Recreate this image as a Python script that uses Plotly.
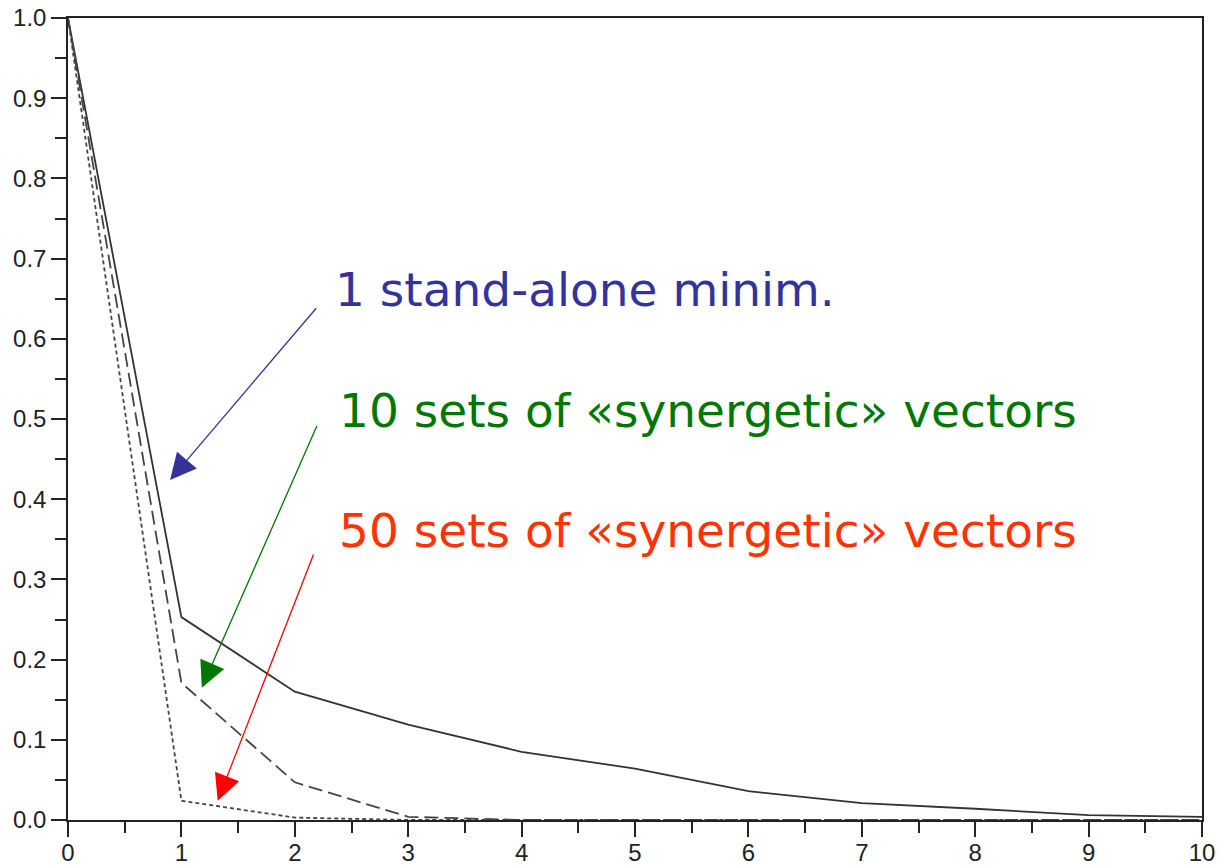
import plotly.graph_objects as go

x_vals = [0, 1, 2, 3, 4, 5, 6, 7, 8, 9, 10]
solid_vals = [1.0, 0.253, 0.160, 0.119, 0.085, 0.064, 0.036, 0.021, 0.014, 0.006, 0.004]
dashed_vals = [1.0, 0.171, 0.047, 0.004, 0.0, 0.0, 0.0, 0.0, 0.0, 0.0, 0.0]
dotted_vals = [1.0, 0.024, 0.003, 0.0, 0.0, 0.0, 0.0, 0.0, 0.0, 0.0, 0.0]

labels = ["1 stand-alone minim.", "10 sets of «synergetic» vectors", "50 sets of «synergetic» vectors"]
label_colors = ["#333399", "#007700", "#ff3300"]
arrow_colors = ["#333399", "#007700", "#ff0000"]
label_x = [2.34, 2.37, 2.37]
label_y = [0.661, 0.511, 0.361]
arrow_tail_x = [2.20, 2.20, 2.17]
arrow_tail_y = [0.640, 0.493, 0.333]
arrow_tip_x = [0.90, 1.18, 1.32]
arrow_tip_y = [0.424, 0.165, 0.024]

fig = go.Figure()
fig.add_trace(go.Scatter(x=x_vals, y=solid_vals, mode="lines",
                         line=dict(color="#333333", width=1.8), showlegend=False))
fig.add_trace(go.Scatter(x=x_vals, y=dashed_vals, mode="lines",
                         line=dict(color="#444444", width=1.8, dash="14px,6px"), showlegend=False))
fig.add_trace(go.Scatter(x=x_vals, y=dotted_vals, mode="lines",
                         line=dict(color="#444444", width=1.8, dash="4px,3px"), showlegend=False))

for i in range(3):
    fig.add_annotation(x=arrow_tip_x[i], y=arrow_tip_y[i], ax=arrow_tail_x[i], ay=arrow_tail_y[i],
                       xref="x", yref="y", axref="x", ayref="y", text="",
                       showarrow=True, arrowhead=2, arrowsize=4, arrowwidth=1.3,
                       arrowcolor=arrow_colors[i])
    fig.add_annotation(x=label_x[i], y=label_y[i], xref="x", yref="y", text=labels[i],
                       showarrow=False, xanchor="left", yanchor="middle",
                       font=dict(family="DejaVu Sans", size=47, color=label_colors[i]))

axis_common = dict(showline=True, linecolor="#222222", linewidth=1.5, mirror=True,
                   ticks="outside", ticklen=15, tickwidth=1.5, tickcolor="#222222",
                   showgrid=False, zeroline=False, automargin=False,
                   tickfont=dict(family="Liberation Sans", size=24, color="#222222"))

fig.update_xaxes(range=[0, 10], dtick=1, tick0=0, ticklabelstandoff=-5,
                 minor=dict(ticks="outside", ticklen=11, dtick=0.5, tickwidth=1.5, tickcolor="#222222"),
                 **axis_common)
fig.update_yaxes(range=[0, 1], dtick=0.1, tick0=0, tickformat=".1f", ticklabelstandoff=0,
                 minor=dict(ticks="outside", ticklen=11, dtick=0.05, tickwidth=1.5, tickcolor="#222222"),
                 **axis_common)

fig.update_layout(width=1220, height=866, margin=dict(l=68, r=18, t=18, b=46),
                  plot_bgcolor="white", paper_bgcolor="white")

fig.write_html("out.html")
